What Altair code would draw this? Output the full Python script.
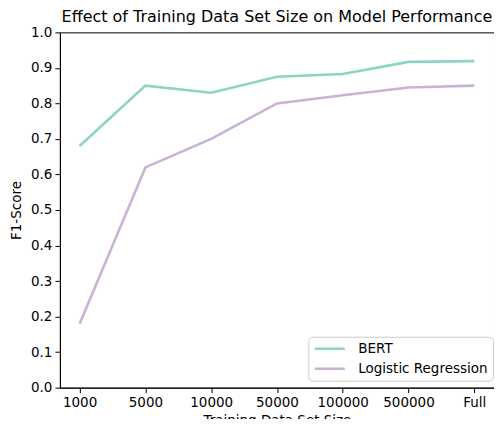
import altair as alt
import pandas as pd

categories = ["1000", "5000", "10000", "50000", "100000", "500000", "Full"]
bert = [0.68, 0.85, 0.83, 0.875, 0.883, 0.917, 0.919]
logreg = [0.18, 0.62, 0.70, 0.80, 0.823, 0.845, 0.85]
series_names = ["BERT", "Logistic Regression"]
colors = ["#8dd3c7", "#cab2d6"]

rows = []
for i, c in enumerate(categories):
    rows.append({"size": c, "model": series_names[0], "f1": bert[i], "order": i})
    rows.append({"size": c, "model": series_names[1], "f1": logreg[i], "order": i})
df = pd.DataFrame(rows)

FONT = "DejaVu Sans"
FS = 13.5

chart = alt.Chart(df).mark_line(strokeWidth=2.6).encode(
    x=alt.X("size:N", sort=categories, title="Training Data Set Size",
            scale=alt.Scale(type="point", padding=0.3),
            axis=alt.Axis(labelAngle=0, titlePadding=4)),
    y=alt.Y("f1:Q", title="F1-Score",
            scale=alt.Scale(domain=[0, 1], nice=False, zero=True),
            axis=alt.Axis(values=[i / 10 for i in range(11)], format=".1f", titlePadding=7)),
    color=alt.Color("model:N", sort=series_names,
                    scale=alt.Scale(domain=series_names, range=colors),
                    legend=alt.Legend(title=None, orient="none", legendX=249, legendY=305,
                                      symbolType="stroke", symbolStrokeWidth=2.6,
                                      symbolSize=900, clipHeight=14,
                                      labelFontSize=FS, labelFont=FONT,
                                      labelColor="black", labelOffset=12,
                                      strokeColor="#cccccc", fillColor="white",
                                      cornerRadius=4, padding=5, rowPadding=6)),
    order="order:Q",
).properties(
    width=435,
    height=356,
    title=alt.Title("Effect of Training Data Set Size on Model Performance",
                    fontSize=16, fontWeight="normal", font=FONT, color="black",
                    anchor="middle", offset=0),
    autosize=alt.AutoSizeParams(type="none"),
    padding={"left": 52, "top": 24, "right": 0, "bottom": 31},
).configure_view(
    stroke="black", strokeWidth=1
).configure_axis(
    grid=False,
    domainColor="black",
    tickColor="black",
    tickSize=5,
    labelFont=FONT,
    labelFontSize=FS,
    labelColor="black",
    titleFont=FONT,
    titleFontSize=FS,
    titleFontWeight="normal",
    titleColor="black",
    labelPadding=3,
)

chart.save("out.html", embed_options={"renderer": "svg", "actions": False})
